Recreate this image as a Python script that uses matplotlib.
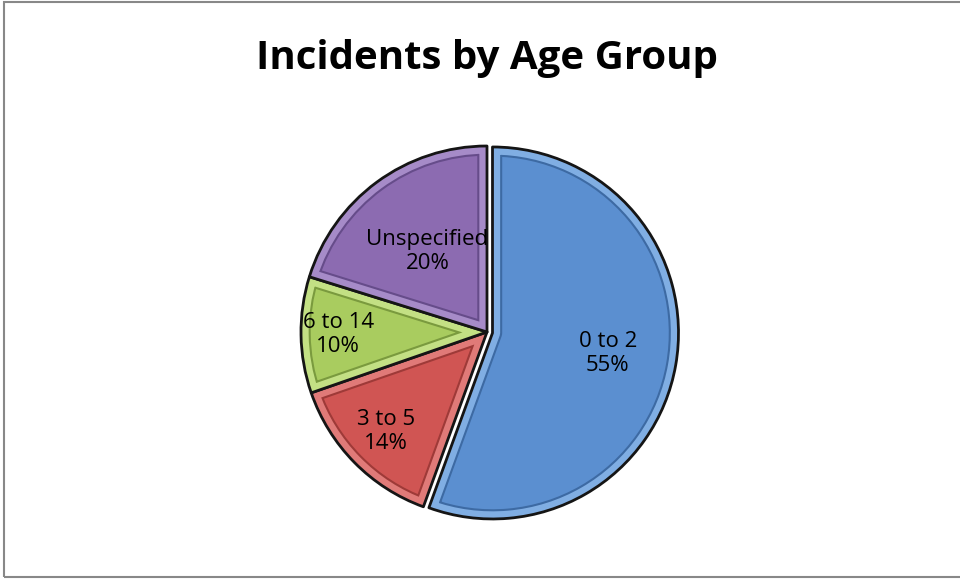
import numpy as np
import matplotlib.pyplot as plt
from matplotlib.patches import Rectangle, Wedge

# data
groups = ['0 to 2', '3 to 5', '6 to 14', 'Unspecified']
shares = [55, 14, 10, 20]
colors = ['#5b8fd0', '#d05553', '#a9cc5f', '#8c6bb1']
band_light = ['#80aee3', '#e07a78', '#c3e084', '#a68bc8']
band_dark = ['#3d6aa3', '#9e3a38', '#7a9a3e', '#664c8a']
label_r = [0.63, 0.76, 0.80, 0.54]

plt.rcParams['font.family'] = ['Open Sans', 'DejaVu Sans']

fig = plt.figure(figsize=(9.6, 5.79), dpi=100)
fig.patches.append(Rectangle((4/960, 2/579), 1.2, 575/579, transform=fig.transFigure,
                             fill=False, edgecolor='#888888', linewidth=1.5))

R = 186
ax = fig.add_axes([(487-200)/960, (579-332-200)/579, 400/960, 400/579])
lim = 200/R

explode = [0.03, 0, 0, 0]
wedges, _ = ax.pie(shares, colors=colors, startangle=90, counterclock=False,
                   explode=explode, radius=1.0, normalize=True,
                   wedgeprops=dict(edgecolor='none', linewidth=0))

# bevel: coloured band along the inside of each slice edge
for w, cl, cd in zip(wedges, band_light, band_dark):
    for col, lw in [(cd, 14), (cl, 11)]:
        b = Wedge(w.center, w.r, w.theta1, w.theta2, facecolor='none',
                  edgecolor=col, linewidth=lw, joinstyle='round')
        ax.add_patch(b)
        b.set_clip_path(w)
    ax.add_patch(Wedge(w.center, w.r, w.theta1, w.theta2, facecolor='none',
                       edgecolor='#151515', linewidth=2.0, joinstyle='round'))

ax.set_xlim(-lim, lim)
ax.set_ylim(-lim, lim)
ax.set_aspect('equal')
ax.axis('off')

for w, g, s, r in zip(wedges, groups, shares, label_r):
    ang = np.deg2rad((w.theta1 + w.theta2) / 2)
    cx, cy = w.center
    ax.text(cx + r*np.cos(ang), cy + r*np.sin(ang), f'{g}\n{s}%',
            ha='center', va='center', fontsize=16, linespacing=1.2)

fig.text(487/960, 1 - 58/579, 'Incidents by Age Group', ha='center', va='center',
         fontsize=29, fontweight='bold')

fig.savefig('out.png', dpi=100)
